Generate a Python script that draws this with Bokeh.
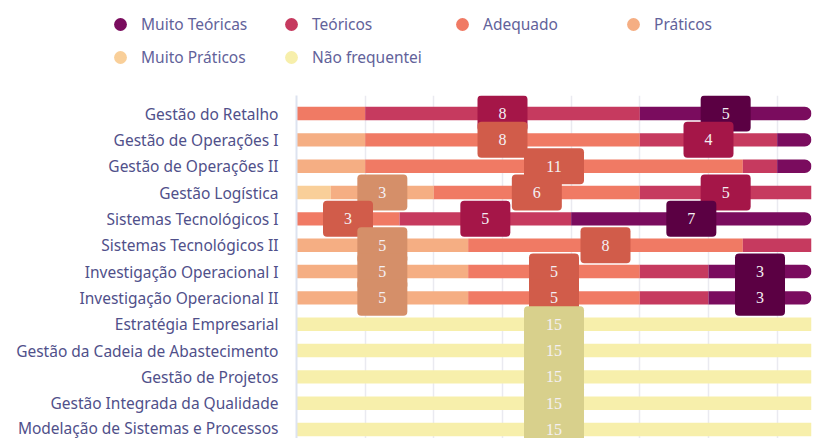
from bokeh.plotting import figure
from bokeh.layouts import column
from bokeh.models import (ColumnDataSource, Range1d, FixedTicker, Grid, LinearAxis,
                          Legend, LegendItem)
from bokeh.core.properties import value
from bokeh.embed import file_html
from bokeh.resources import INLINE

categories = [
    "Gestão do Retalho",
    "Gestão de Operações I",
    "Gestão de Operações II",
    "Gestão Logística",
    "Sistemas Tecnológicos I",
    "Sistemas Tecnológicos II",
    "Investigação Operacional I",
    "Investigação Operacional II",
    "Estratégia Empresarial",
    "Gestão da Cadeia de Abastecimento",
    "Gestão de Projetos",
    "Gestão Integrada da Qualidade",
    "Modelação de Sistemas e Processos",
]

muito_praticos = [0, 0, 0, 1, 0, 0, 0, 0, 0, 0, 0, 0, 0]
praticos       = [0, 2, 2, 3, 0, 5, 5, 5, 0, 0, 0, 0, 0]
adequado       = [2, 8, 11, 6, 3, 8, 5, 5, 0, 0, 0, 0, 0]
teoricos       = [8, 4, 1, 5, 5, 2, 2, 2, 0, 0, 0, 0, 0]
muito_teoricas = [5, 1, 1, 0, 7, 0, 3, 3, 0, 0, 0, 0, 0]
nao_frequentei = [0, 0, 0, 0, 0, 0, 0, 0, 15, 15, 15, 15, 15]

series_names = ["Muito Práticos", "Práticos", "Adequado", "Teóricos",
                "Muito Teóricas", "Não frequentei"]
series_values = [muito_praticos, praticos, adequado, teoricos,
                 muito_teoricas, nao_frequentei]
bar_colors = ["#f9cf99", "#f5ae83", "#f07a64", "#c63a5f", "#7a0c5e", "#f7efab"]
box_colors = ["#d9ae7c", "#d58f69", "#d15c4a", "#a51648", "#5b0043", "#d8d08c"]
legend_order = ["Muito Teóricas", "Teóricos", "Adequado", "Práticos",
                "Muito Práticos", "Não frequentei"]
x_ticks = [0, 2, 4, 6, 8, 10, 12, 14]

LABEL_COLOR = "#50508a"

W, H = 819, 438
TOP = 95

# ---------- legend figure (top strip) ----------
lg = figure(width=W, height=TOP, output_backend="svg", toolbar_location=None,
            x_axis_type=None, y_axis_type=None,
            x_range=Range1d(0, 1), y_range=Range1d(0, 1),
            min_border=0, min_border_left=0, min_border_right=0,
            min_border_top=0, min_border_bottom=0)
lg.frame_align = False
lg.outline_line_color = None
lg.background_fill_color = "white"
lg.border_fill_color = "white"

items = []
color_of = dict(zip(series_names, bar_colors))
for name in legend_order:
    # one point outside the visible range: only its legend glyph is seen
    r = lg.scatter(x=[-5], y=[-5], marker="circle", fill_color=color_of[name],
                   line_color=None)
    items.append(LegendItem(label=name, renderers=[r]))

GLYPH = 32
legend_top = 7.5
legend_h = 2 * GLYPH + 1
legend = Legend(items=items,
                location=(104, TOP - (legend_top + legend_h)),
                orientation="horizontal",
                ncols=4, glyph_width=GLYPH, glyph_height=GLYPH, spacing=1,
                label_standoff=5, label_width=133, padding=0, margin=0,
                border_line_color=None, background_fill_alpha=0,
                label_text_font="Noto Sans", label_text_font_size="15.5px",
                label_text_color="#62629a")
lg.add_layout(legend, "center")

# ---------- main chart ----------
p = figure(width=W, height=H - TOP, output_backend="svg", toolbar_location=None,
           x_axis_type=None, y_axis_type=None,
           x_range=Range1d(0, 15), y_range=Range1d(12.34, -0.684),
           min_border_left=296, min_border_right=8, min_border_top=0,
           min_border_bottom=0)
p.frame_align = False
p.outline_line_color = None
p.background_fill_color = "white"
p.border_fill_color = "white"

ypos = list(range(len(categories)))

grid = Grid(dimension=0, ticker=FixedTicker(ticks=x_ticks),
            grid_line_color="#eaeaf0", grid_line_width=1.5)
p.add_layout(grid)

yaxis = LinearAxis(ticker=FixedTicker(ticks=ypos),
                   major_label_overrides={i: c for i, c in enumerate(categories)})
yaxis.axis_line_color = "#dde3f0"
yaxis.axis_line_width = 2
yaxis.major_tick_line_color = None
yaxis.minor_tick_line_color = None
yaxis.major_label_standoff = 12
yaxis.major_label_text_font = "Noto Sans"
yaxis.major_label_text_font_size = "15.5px"
yaxis.major_label_text_color = LABEL_COLOR
p.add_layout(yaxis, "left")

# stacked bars
left = [0] * len(categories)
segs = []
for name, vals, col, bcol in zip(series_names, series_values, bar_colors, box_colors):
    right = [l + v for l, v in zip(left, vals)]
    src = ColumnDataSource(dict(y=ypos, left=left, right=right))
    kw = {}
    if name == "Muito Teóricas":
        kw["border_radius"] = (0, 7, 7, 0)
    p.hbar(y="y", left="left", right="right", height=0.51, source=src,
           fill_color=col, line_color=None, **kw)
    segs.append((vals, left, right, bcol))
    left = right

# label boxes, row by row
box_x, box_y, box_w, box_c, box_t = [], [], [], [], []
for i in range(len(categories)):
    for vals, l, r, bcol in segs:
        v = vals[i]
        if v >= 3:
            box_x.append((l[i] + r[i]) / 2)
            box_y.append(i)
            box_w.append(50 if v < 10 else 60)
            box_c.append(bcol)
            box_t.append(str(v))

lab = ColumnDataSource(dict(x=box_x, y=box_y, w=box_w, c=box_c, t=box_t))
p.rect(x="x", y="y", width="w", height=36, width_units="screen",
       height_units="screen", fill_color="c", line_color=None,
       border_radius=4, source=lab)
p.text(x="x", y="y", text="t", source=lab, text_align="center",
       text_baseline="middle", text_color="#f4f0f4",
       text_font=value("Liberation Serif"), text_font_size="16px")

layout = column(lg, p, spacing=0)
open("out.html", "w").write(file_html(layout, INLINE))
